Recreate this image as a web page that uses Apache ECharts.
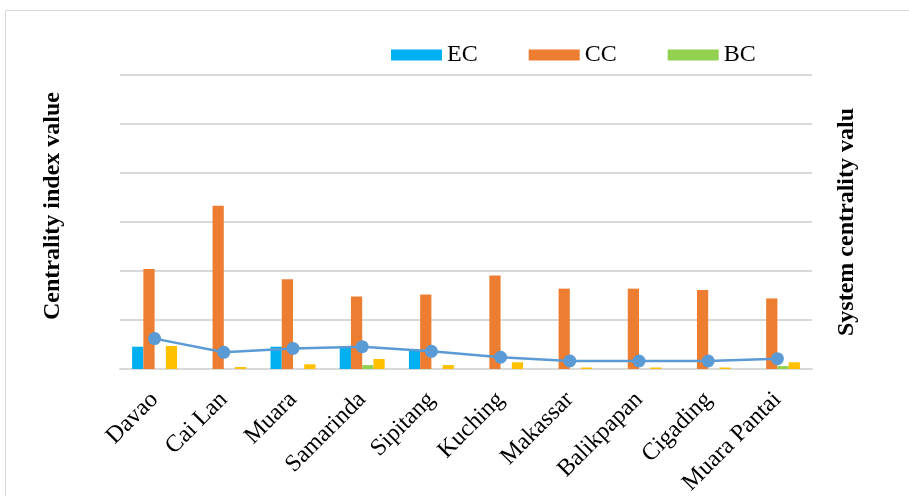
<!DOCTYPE html>
<html>
<head>
<meta charset="utf-8">
<script src="https://cdn.jsdelivr.net/npm/echarts@6/dist/echarts.min.js"></script>
<style>
  html, body { margin: 0; padding: 0; background: #ffffff; }
  #chart { width: 909px; height: 496px; }
</style>
</head>
<body>
<div id="chart"></div>
<script>
// Ports on the x axis
const ports = ['Davao', 'Cai Lan', 'Muara', 'Samarinda', 'Sipitang', 'Kuching',
               'Makassar', 'Balikpapan', 'Cigading', 'Muara Pantai'];

// Centrality indices per port
const ecValues = [0.0455, 0, 0.0455, 0.047, 0.039, 0, 0, 0, 0, 0];
const ccValues = [0.204, 0.333, 0.183, 0.148, 0.152, 0.191, 0.164, 0.164, 0.161, 0.144];
const bcValues = [0, 0, 0, 0.008, 0, 0, 0, 0, 0, 0.006];
const fourthValues = [0.047, 0.004, 0.0096, 0.0204, 0.008, 0.0137, 0.003, 0.003, 0.003, 0.0137];

// System centrality value per port
const systemValues = [0.062, 0.034, 0.042, 0.0455, 0.036, 0.024, 0.0163, 0.0163, 0.0163, 0.021];

const serif = '"Times New Roman", "Liberation Serif", serif';

const chart = echarts.init(document.getElementById('chart'), null, { renderer: 'canvas' });

const barBase = { type: 'bar', barGap: '0%', barCategoryGap: '35%', yAxisIndex: 0 };

chart.setOption({
  animation: false,
  backgroundColor: '#ffffff',
  grid: { left: 120, right: 97, top: 75, bottom: 127, outerBoundsMode: 'none' },
  legend: {
    data: ['EC', 'CC', 'BC'],
    left: 386,
    top: 38,
    icon: 'rect',
    itemWidth: 51,
    itemHeight: 11,
    itemGap: 51,
    textStyle: { fontFamily: serif, fontSize: 24, color: '#000000' }
  },
  xAxis: {
    type: 'category',
    data: ports,
    axisLine: { lineStyle: { color: '#d9d9d9', width: 2 } },
    axisTick: { show: false },
    axisLabel: {
      rotate: 45,
      margin: 27,
      interval: 0,
      fontFamily: serif,
      fontSize: 24,
      color: '#000000'
    }
  },
  yAxis: [
    {
      type: 'value',
      min: 0,
      max: 0.6,
      interval: 0.1,
      axisLabel: { show: false },
      axisLine: { show: false },
      axisTick: { show: false },
      splitLine: { lineStyle: { color: '#d9d9d9', width: 2 } }
    },
    {
      type: 'value',
      min: 0,
      max: 0.6,
      interval: 0.1,
      axisLabel: { show: false },
      axisLine: { show: false },
      axisTick: { show: false },
      splitLine: { show: false }
    }
  ],
  graphic: [
    {
      type: 'rect',
      shape: { x: 5.5, y: 10.5, width: 1000, height: 1000 },
      style: { fill: 'none', stroke: '#d9d9d9', lineWidth: 1 },
      silent: true
    },
    {
      type: 'text',
      x: 53,
      y: 206,
      rotation: Math.PI / 2,
      style: {
        text: 'Centrality index value',
        font: 'bold 24px ' + serif,
        fill: '#000000',
        align: 'center',
        verticalAlign: 'middle'
      }
    },
    {
      type: 'text',
      x: 847,
      y: 222,
      rotation: Math.PI / 2,
      style: {
        text: 'System centrality valu',
        font: 'bold 24px ' + serif,
        fill: '#000000',
        align: 'center',
        verticalAlign: 'middle'
      }
    }
  ],
  series: [
    Object.assign({ name: 'EC', data: ecValues, itemStyle: { color: '#00b0f0' } }, barBase),
    Object.assign({ name: 'CC', data: ccValues, itemStyle: { color: '#ed7d31' } }, barBase),
    Object.assign({ name: 'BC', data: bcValues, itemStyle: { color: '#92d050' } }, barBase),
    Object.assign({ name: 'Other', data: fourthValues, itemStyle: { color: '#ffc000' } }, barBase),
    {
      name: 'System',
      type: 'line',
      yAxisIndex: 1,
      data: systemValues,
      symbol: 'circle',
      symbolSize: 13,
      z: 5,
      lineStyle: { color: '#5b9bd5', width: 2.5 },
      itemStyle: { color: '#5b9bd5' }
    }
  ]
});
</script>
</body>
</html>
